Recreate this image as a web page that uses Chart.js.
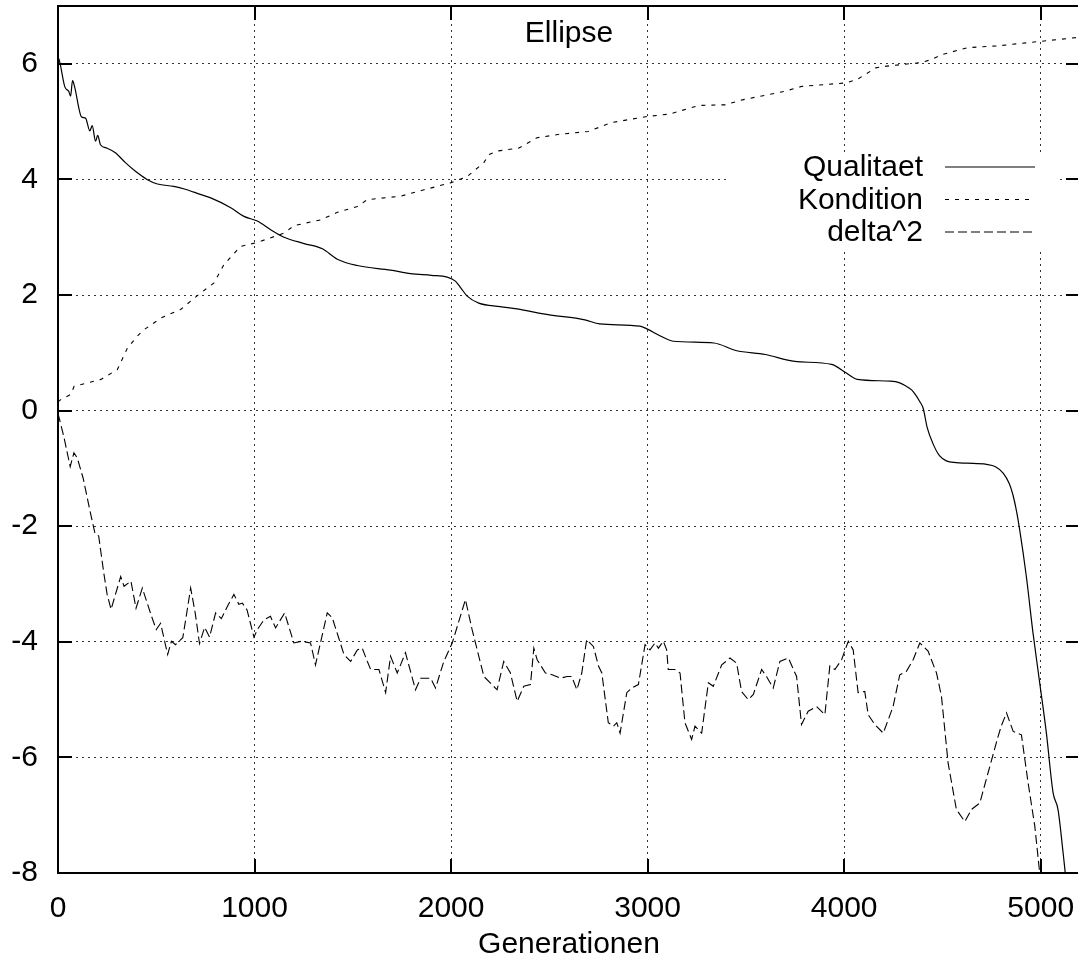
<!DOCTYPE html>
<html>
<head>
<meta charset="utf-8">
<script src="https://cdn.jsdelivr.net/npm/chart.js@4.4.1/dist/chart.umd.min.js"></script>
<style>
  html, body { margin: 0; padding: 0; overflow: hidden; background: #fff; }
  canvas { display: block; }
</style>
</head>
<body>
<canvas id="c" width="1084" height="969"></canvas>
<script>
// ---- data ----
const xTicks = [0, 1000, 2000, 3000, 4000, 5000];
const yTicks = [-8, -6, -4, -2, 0, 2, 4, 6];
const chartTitle = 'Ellipse';
const xTitle = 'Generationen';
const seriesNames = ['Qualitaet', 'Kondition', 'delta^2'];

const qualX = [0, 5, 35, 55, 64, 74, 84, 120, 140, 162, 174, 191, 202, 216, 250, 292, 343, 394, 453, 506, 589, 648, 724, 777, 879, 946, 1014, 1082, 1150, 1252, 1345, 1421, 1523, 1692, 1794, 1900, 1980, 2022, 2050, 2082, 2141, 2250, 2336, 2493, 2681, 2756, 2961, 2999, 3060, 3130, 3337, 3449, 3599, 3749, 3936, 4011, 4067, 4236, 4283, 4330, 4351, 4386, 4402, 4423, 4453, 4485, 4520, 4570, 4622, 4724, 4770, 4809, 4840, 4859, 4877, 4893, 4927, 4961, 4995, 5029, 5063, 5088, 5114, 5125];
const qualY = [6.10, 6.08, 5.60, 5.52, 5.44, 5.71, 5.61, 5.08, 5.06, 4.84, 4.93, 4.66, 4.76, 4.60, 4.54, 4.46, 4.29, 4.14, 4.00, 3.92, 3.88, 3.83, 3.74, 3.68, 3.51, 3.36, 3.28, 3.13, 3.00, 2.89, 2.80, 2.62, 2.51, 2.43, 2.37, 2.34, 2.31, 2.24, 2.12, 1.98, 1.86, 1.80, 1.76, 1.66, 1.57, 1.50, 1.46, 1.41, 1.30, 1.20, 1.17, 1.04, 0.97, 0.85, 0.80, 0.65, 0.54, 0.51, 0.48, 0.39, 0.33, 0.15, 0.04, -0.30, -0.58, -0.78, -0.87, -0.90, -0.91, -0.93, -0.97, -1.08, -1.26, -1.46, -1.74, -2.06, -2.87, -3.85, -4.71, -5.58, -6.61, -6.90, -7.65, -8.00];

const kondX = [0, 14, 65, 82, 218, 302, 353, 404, 438, 523, 624, 709, 794, 845, 929, 1014, 1150, 1201, 1336, 1421, 1523, 1574, 1743, 1862, 1997, 2082, 2167, 2192, 2234, 2343, 2437, 2550, 2700, 2812, 2999, 3112, 3261, 3392, 3487, 3693, 3786, 4011, 4067, 4161, 4217, 4386, 4442, 4498, 4629, 4779, 5004, 5200];
const kondY = [0.15, 0.19, 0.28, 0.42, 0.54, 0.71, 1.08, 1.29, 1.40, 1.60, 1.75, 1.99, 2.21, 2.53, 2.84, 2.91, 3.07, 3.20, 3.30, 3.43, 3.53, 3.65, 3.71, 3.82, 3.94, 4.05, 4.29, 4.43, 4.49, 4.54, 4.72, 4.78, 4.83, 4.98, 5.09, 5.13, 5.28, 5.29, 5.38, 5.52, 5.61, 5.67, 5.73, 5.93, 5.96, 6.02, 6.07, 6.16, 6.28, 6.31, 6.39, 6.46];

const deltaX = [0, 29, 62, 81, 98, 128, 165, 188, 207, 233, 250, 270, 319, 336, 371, 397, 429, 475, 500, 522, 558, 577, 598, 635, 675, 698, 720, 746, 771, 802, 831, 866, 895, 920, 938, 962, 997, 1016, 1048, 1081, 1107, 1153, 1200, 1240, 1285, 1310, 1370, 1395, 1428, 1455, 1489, 1523, 1548, 1574, 1591, 1633, 1667, 1692, 1726, 1768, 1819, 1845, 1896, 1921, 1963, 2006, 2073, 2107, 2167, 2234, 2268, 2302, 2336, 2370, 2404, 2421, 2438, 2480, 2514, 2557, 2590, 2614, 2640, 2665, 2690, 2724, 2750, 2767, 2800, 2826, 2843, 2860, 2894, 2919, 2953, 2987, 3012, 3038, 3055, 3080, 3097, 3105, 3139, 3165, 3190, 3224, 3241, 3275, 3309, 3334, 3377, 3419, 3453, 3478, 3512, 3538, 3580, 3605, 3639, 3673, 3716, 3758, 3783, 3817, 3860, 3902, 3927, 3953, 3987, 4021, 4046, 4071, 4105, 4122, 4156, 4199, 4249, 4283, 4317, 4351, 4385, 4427, 4470, 4495, 4529, 4571, 4614, 4648, 4690, 4732, 4783, 4800, 4826, 4860, 4902, 4936, 4970, 4995];
const deltaY = [-0.05, -0.44, -0.97, -0.73, -0.82, -1.17, -1.77, -2.12, -2.17, -2.81, -3.18, -3.44, -2.87, -3.04, -2.95, -3.42, -3.07, -3.55, -3.79, -3.68, -4.22, -3.99, -4.05, -3.93, -3.07, -3.50, -4.03, -3.75, -3.92, -3.50, -3.60, -3.36, -3.18, -3.35, -3.33, -3.45, -3.92, -3.78, -3.62, -3.56, -3.76, -3.50, -4.02, -3.99, -4.02, -4.40, -3.50, -3.58, -3.93, -4.22, -4.34, -4.14, -4.11, -4.34, -4.48, -4.48, -4.88, -4.25, -4.54, -4.19, -4.83, -4.63, -4.63, -4.80, -4.34, -4.02, -3.27, -3.79, -4.60, -4.83, -4.34, -4.54, -5.03, -4.77, -4.74, -4.11, -4.31, -4.54, -4.57, -4.63, -4.60, -4.60, -4.83, -4.54, -3.96, -4.08, -4.42, -4.54, -5.40, -5.46, -5.40, -5.58, -4.88, -4.80, -4.74, -4.05, -4.14, -4.02, -4.11, -3.99, -4.14, -4.48, -4.48, -4.54, -5.40, -5.69, -5.46, -5.58, -4.71, -4.77, -4.40, -4.28, -4.37, -4.86, -5.00, -4.91, -4.48, -4.60, -4.80, -4.34, -4.28, -4.60, -5.43, -5.20, -5.12, -5.26, -4.42, -4.48, -4.31, -3.99, -4.14, -4.88, -4.86, -5.26, -5.43, -5.58, -5.12, -4.57, -4.51, -4.31, -4.02, -4.16, -4.54, -4.94, -6.10, -6.90, -7.11, -6.90, -6.79, -6.27, -5.64, -5.45, -5.23, -5.55, -5.61, -6.44, -7.19, -8.00];

// ---- rendering ----
const FONT_FAMILY = '"Liberation Sans", Arial, Helvetica, sans-serif';
const FONT = { family: FONT_FAMILY, size: 30 };
const pts = (xs, ys) => xs.map((x, i) => ({ x: x, y: ys[i] }));
const noPad = s => { s.paddingTop = 0; s.paddingBottom = 0; s.paddingLeft = 0; s.paddingRight = 0; };

const gnuplotDecor = {
  id: 'gnuplotDecor',
  beforeDatasetsDraw(chart) {
    const ctx = chart.ctx;
    ctx.save();
    ctx.fillStyle = '#ffffff';
    ctx.fillRect(729, 152, 327, 98);   // key box (blanks grid behind legend)
    ctx.restore();
  },
  afterDatasetsDraw(chart) {
    const ctx = chart.ctx;
    const a = chart.chartArea;
    const xs = chart.scales.x, ys = chart.scales.y;
    ctx.save();
    ctx.strokeStyle = '#000';
    ctx.setLineDash([]);
    ctx.lineWidth = 2;
    const TL = 14;
    xs.ticks.forEach(t => {
      const p = Math.round(xs.getPixelForValue(t.value));
      ctx.beginPath();
      ctx.moveTo(p, a.bottom); ctx.lineTo(p, a.bottom - TL);
      ctx.moveTo(p, a.top); ctx.lineTo(p, a.top + TL);
      ctx.stroke();
    });
    ys.ticks.forEach(t => {
      const p = Math.round(ys.getPixelForValue(t.value));
      ctx.beginPath();
      ctx.moveTo(a.left, p); ctx.lineTo(a.left + TL, p);
      ctx.moveTo(a.right, p); ctx.lineTo(a.right - TL, p);
      ctx.stroke();
    });
    ctx.lineWidth = 2;
    ctx.strokeRect(a.left, a.top, a.right - a.left, a.bottom - a.top);
    ctx.fillStyle = '#000';
    ctx.font = FONT.size + 'px ' + FONT_FAMILY;
    ctx.textAlign = 'center';
    ctx.textBaseline = 'middle';
    ctx.fillText(chartTitle, (a.left + a.right) / 2, 34);
    ctx.textAlign = 'right';
    chart.data.datasets.forEach((ds, i) => {
      const yRow = 167 + i * 32.5;
      ctx.fillText(ds.label, 923, yRow + 1);
      ctx.beginPath();
      ctx.lineWidth = ds.borderWidth;
      ctx.setLineDash(ds.borderDash || []);
      ctx.moveTo(945, yRow); ctx.lineTo(1035, yRow);
      ctx.stroke();
    });
    ctx.restore();
  }
};

new Chart(document.getElementById('c'), {
  type: 'line',
  data: {
    datasets: [
      { label: seriesNames[0], data: pts(qualX, qualY), borderColor: '#000', borderWidth: 1.2, pointRadius: 0, cubicInterpolationMode: 'monotone', fill: false },
      { label: seriesNames[1], data: pts(kondX, kondY), borderColor: '#000', borderWidth: 1.1, borderDash: [4, 6], pointRadius: 0, tension: 0, fill: false },
      { label: seriesNames[2], data: pts(deltaX, deltaY), borderColor: '#000', borderWidth: 1.1, borderDash: [9, 4], pointRadius: 0, tension: 0, fill: false }
    ]
  },
  options: {
    responsive: false,
    animation: false,
    devicePixelRatio: 1,
    layout: { padding: { top: 6, right: 4, left: 0, bottom: 0 } },
    plugins: { legend: { display: false }, tooltip: { enabled: false }, title: { display: false } },
    scales: {
      x: {
        type: 'linear', min: 0, max: 5200,
        afterBuildTicks: s => { s.ticks = xTicks.map(v => ({ value: v })); },
        afterFit: s => { s.height = 96; noPad(s); },
        ticks: { font: FONT, color: '#000', padding: 18, maxRotation: 0, autoSkip: false, callback: v => String(v) },
        grid: { color: 'rgba(0,0,0,0.8)', lineWidth: 1, drawTicks: false },
        border: { display: false, dash: [2, 4] },
        title: { display: true, text: xTitle, font: FONT, color: '#000', padding: { top: 0, bottom: 6 } }
      },
      y: {
        type: 'linear', min: -8, max: 7,
        afterBuildTicks: s => { s.ticks = yTicks.map(v => ({ value: v })); },
        afterFit: s => { s.width = 58; noPad(s); },
        ticks: { font: FONT, color: '#000', padding: 20, autoSkip: false, callback: v => String(v) },
        grid: { color: 'rgba(0,0,0,0.8)', lineWidth: 1, drawTicks: false },
        border: { display: false, dash: [2, 4] }
      }
    }
  },
  plugins: [gnuplotDecor]
});
</script>
</body>
</html>
